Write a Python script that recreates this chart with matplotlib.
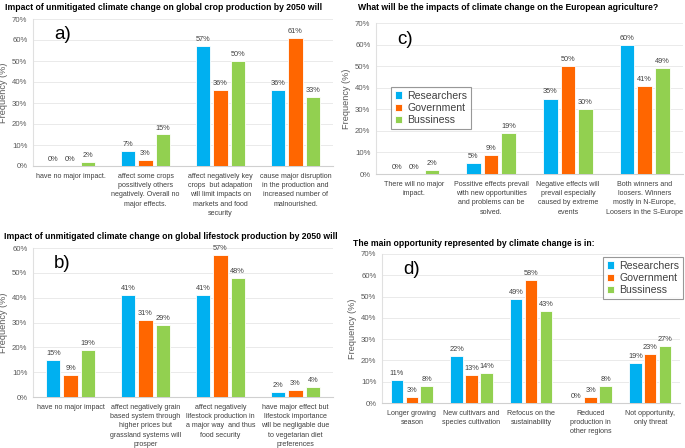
import numpy as np
import matplotlib.pyplot as plt
from matplotlib.ticker import FuncFormatter

plt.rcParams['font.family'] = ['Liberation Sans', 'DejaVu Sans']

groups = ['Researchers', 'Government', 'Bussiness']
colors = ['#00B0F0', '#FF6600', '#92D050']

# a) crop production
cats_a = ['have no major impact.',
          'affect some crops\npossitively others\nnegatively. Overall no\nmajor effects.',
          'affect negatively key\ncrops  but adapation\nwill limit impacts on\nmarkets and food\nsecurity',
          'cause major disruption\nin the production and\nincreased number of\nmalnourished.']
res_a = [0, 7, 57, 36]
gov_a = [0, 3, 36, 61]
bus_a = [2, 15, 50, 33]

# b) lifestock production
cats_b = ['have no major impact',
          'affect negatively grain\nbased system through\nhigher prices but\ngrassland systems will\nprosper',
          'affect negatively\nlifestock production in\na major way  and thus\nfood security',
          'have major effect but\nlifestock importance\nwill be negligable due\nto vegetarian diet\npreferences']
res_b = [15, 41, 41, 2]
gov_b = [9, 31, 57, 3]
bus_b = [19, 29, 48, 4]

# c) european agriculture
cats_c = ['There will no major\nimpact.',
          'Possitive effects prevail\nwith new opportunities\nand problems can be\nsolved.',
          'Negative effects will\nprevail especially\ncaused by extreme\nevents',
          'Both winners and\nloosers. Winners\nmostly in N-Europe,\nLoosers in the S-Europe']
res_c = [0, 5, 35, 60]
gov_c = [0, 9, 50, 41]
bus_c = [2, 19, 30, 49]

# d) main opportunity
cats_d = ['Longer growing\nseason',
          'New cultivars and\nspecies cultivation',
          'Refocus on the\nsustainability',
          'Reduced\nproduction in\nother regions',
          'Not opportunity,\nonly threat']
res_d = [11, 22, 49, 0, 19]
gov_d = [3, 13, 58, 3, 23]
bus_d = [8, 14, 43, 8, 27]

fig = plt.figure(figsize=(6.85, 4.48), dpi=100)
W, H = 685, 448
FS = 5.1


def px_axes(l, t, r, b):
    return fig.add_axes([l / W, 1 - b / H, (r - l) / W, (b - t) / H])


def panel(ax, cats, series, ymax, letter, width=0.19, step=0.23):
    x = np.arange(len(cats))
    for i, (vals, c) in enumerate(zip(series, colors)):
        ax.bar(x + (i - 1) * step, vals, width, color=c, edgecolor='white',
               linewidth=0.6, label=groups[i], zorder=3)
        for xi, v in zip(x + (i - 1) * step, vals):
            ax.text(xi, v + ymax * 0.02, f'{v}%', ha='center', va='bottom',
                    fontsize=5.3, color='#404040')
    ax.set_xlim(-0.5, len(cats) - 0.5)
    ax.set_ylim(0, ymax)
    ax.set_yticks(np.arange(0, ymax + 1, 10))
    ax.yaxis.set_major_formatter(FuncFormatter(lambda v, p: f'{v:.0f}%'))
    ax.set_xticks(x)
    ax.set_xticklabels(cats, fontsize=FS, color='#404040', linespacing=1.45)
    ax.tick_params(axis='y', labelsize=5.6, labelcolor='#595959', length=0, pad=4)
    ax.tick_params(axis='x', length=0, pad=5)
    ax.grid(axis='y', color='#e6e6e6', linewidth=0.6, zorder=0)
    for s in ['top', 'right']:
        ax.spines[s].set_visible(False)
    ax.spines['left'].set_color('#e0e0e0')
    ax.spines['bottom'].set_color('#d0d0d0')
    ax.set_ylabel('Frequency (%)', fontsize=6.6, color='#595959', labelpad=3)
    ax.text(0.07, 0.95, letter, transform=ax.transAxes, fontsize=13.5,
            va='top', ha='left', color='black')
    return ax


ax_a = panel(px_axes(33, 19, 333, 166), cats_a, [res_a, gov_a, bus_a], 70, 'a)')
ax_c = panel(px_axes(376, 23, 683, 174), cats_c, [res_c, gov_c, bus_c], 70, 'c)')
ax_b = panel(px_axes(33, 248, 333, 397), cats_b, [res_b, gov_b, bus_b], 60, 'b)')
ax_d = panel(px_axes(382, 254, 680, 403), cats_d, [res_d, gov_d, bus_d], 70, 'd)',
             width=0.21, step=0.25)

title_kw = dict(fontsize=6.2, fontweight='bold', va='center', ha='left')
fig.text(5 / W, 1 - 8 / H, 'Impact of unmitigated climate change on global crop production by 2050 will', **title_kw)
fig.text(358 / W, 1 - 8 / H, 'What will be the impacts of climate change on the European agriculture?', **title_kw)
fig.text(4 / W, 1 - 236 / H, 'Impact of unmitigated climate change on global lifestock production by 2050 will', **title_kw)
fig.text(353 / W, 1 - 244 / H, 'The main opportunity represented by climate change is in:', **title_kw)

leg_kw = dict(fontsize=7.6, frameon=True, fancybox=False, edgecolor='#7f7f7f',
              handlelength=0.7, handleheight=0.7, handletextpad=0.5,
              borderpad=0.35, labelspacing=0.22, labelcolor='#404040',
              borderaxespad=0)
lc = ax_c.legend(loc='upper left', bbox_to_anchor=((391 - 376) / 307, (174 - 87) / 151), **leg_kw)
lc.get_frame().set_linewidth(0.8)
ld = ax_d.legend(loc='upper right', bbox_to_anchor=((683 - 382) / 298, (403 - 257) / 149), **leg_kw)
ld.get_frame().set_linewidth(0.8)

fig.savefig('out.png', dpi=100)
